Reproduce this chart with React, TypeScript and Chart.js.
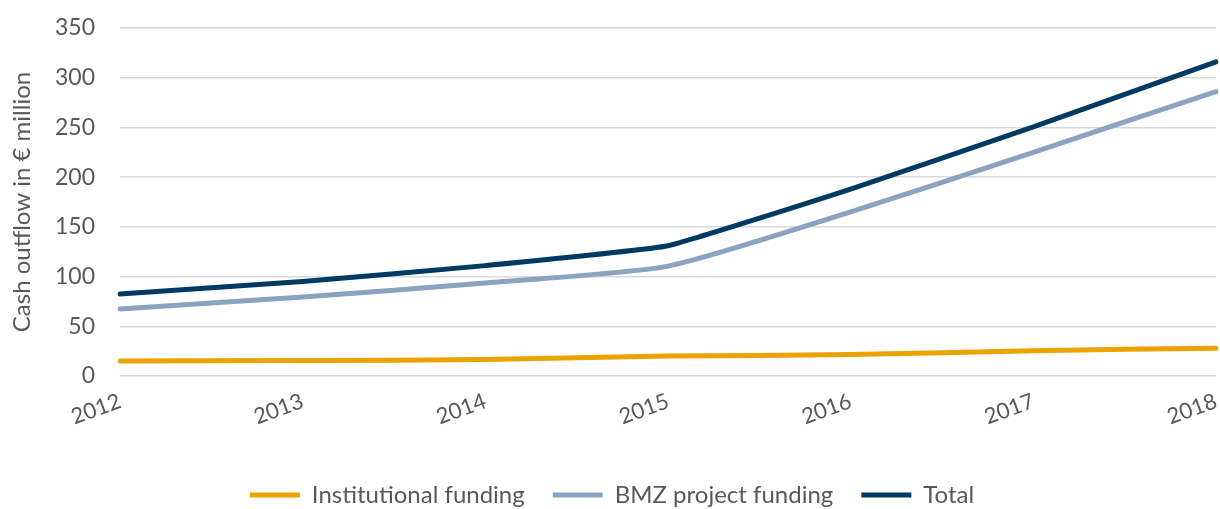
import React, { useEffect, useRef } from "react";
import { Chart, registerables } from "chart.js";

Chart.register(...registerables);

const years = ["2012", "2013", "2014", "2015", "2016", "2017", "2018"];
const institutional = [15, 15.5, 16.5, 20, 21.5, 25.5, 28];
const bmzProject = [67.5, 79.5, 93.5, 110.5, 165, 225, 286];
const total = [82.5, 95, 111, 131, 188, 250.5, 316];
const yTicks = [0, 50, 100, 150, 200, 250, 300, 350];

const FONT = "Lato, 'Open Sans', sans-serif";
const GREY = "#595959";

export default function App() {
  const ref = useRef<HTMLCanvasElement | null>(null);
  useEffect(() => {
    document.body.style.margin = "0";
    const ctx = ref.current!;
    const chart = new Chart(ctx, {
      type: "line",
      data: {
        labels: years,
        datasets: [
          {
            label: "Institutional funding",
            data: institutional,
            borderColor: "#EAA300",
            backgroundColor: "#EAA300",
            borderWidth: 5,
            pointRadius: 0,
            tension: 0.2,
            borderCapStyle: "round",
          },
          {
            label: "BMZ project funding",
            data: bmzProject,
            borderColor: "#8AA3C0",
            backgroundColor: "#8AA3C0",
            borderWidth: 5,
            pointRadius: 0,
            tension: 0.2,
            borderCapStyle: "round",
          },
          {
            label: "Total",
            data: total,
            borderColor: "#003A63",
            backgroundColor: "#003A63",
            borderWidth: 5,
            pointRadius: 0,
            tension: 0.1,
            borderCapStyle: "round",
          },
        ],
      },
      options: {
        animation: false,
        responsive: false,
        layout: { padding: { top: 28, right: 4, left: 8, bottom: 0 } },
        plugins: {
          tooltip: { enabled: false },
          legend: {
            position: "bottom",
            labels: {
              usePointStyle: true,
              pointStyle: "line",
              pointStyleWidth: 50,
              color: GREY,
              font: { family: FONT, size: 24 },
              padding: 28,
            },
          },
        },
        scales: {
          x: {
            offset: false,
            grid: { display: false, drawTicks: false },
            border: { display: false },
            afterFit: (axis: any) => {
              axis.paddingRight = 0;
              axis.paddingLeft = 0;
              axis.height = 79;
            },
            ticks: {
              color: GREY,
              font: { family: FONT, size: 22 },
              minRotation: 20,
              maxRotation: 20,
              padding: 12,
            },
          },
          y: {
            min: 0,
            max: 350,
            afterBuildTicks: (axis: any) => {
              axis.ticks = yTicks.map((v) => ({ value: v }));
            },
            afterFit: (axis: any) => {
              axis.paddingTop = 0;
              axis.paddingBottom = 0;
              axis.width = 112;
            },
            grid: { color: "#D9D9D9", lineWidth: 1.5, drawTicks: false },
            border: { display: false },
            ticks: {
              color: GREY,
              font: { family: FONT, size: 23 },
              padding: 25,
            },
            title: {
              display: true,
              text: "Cash outflow in € million",
              color: GREY,
              font: { family: FONT, size: 24 },
              padding: { top: 0, bottom: 0 },
            },
          },
        },
      },
    });
    return () => chart.destroy();
  }, []);
  return (
    <div style={{ width: 1220, height: 509, overflow: "hidden" }}>
      <canvas ref={ref} width={1220} height={517} style={{ display: "block" }} />
    </div>
  );
}
